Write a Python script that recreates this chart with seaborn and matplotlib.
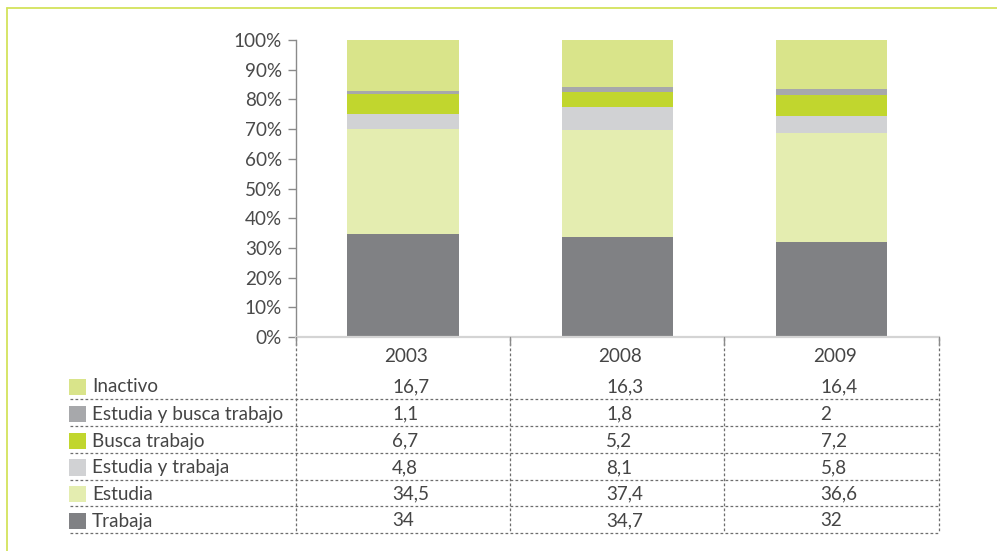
import matplotlib
matplotlib.use("Agg")
import matplotlib.pyplot as plt
import seaborn as sns
import numpy as np
import pandas as pd
from matplotlib.lines import Line2D
from matplotlib.patches import Rectangle

# ---------------- data ----------------
years = ["2003", "2008", "2009"]
trabaja = [34, 34.7, 32]
estudia = [34.5, 37.4, 36.6]
estudia_y_trabaja = [4.8, 8.1, 5.8]
busca_trabajo = [6.7, 5.2, 7.2]
estudia_y_busca = [1.1, 1.8, 2]
inactivo = [16.7, 16.3, 16.4]

# stacking order (bottom -> top)
series_names = ["Trabaja", "Estudia", "Estudia y trabaja", "Busca trabajo",
                "Estudia y busca trabajo", "Inactivo"]
series_values = [trabaja, estudia, estudia_y_trabaja, busca_trabajo,
                 estudia_y_busca, inactivo]
series_colors = ["#808184", "#e4edb0", "#d1d2d4", "#c1d62e", "#a7a8ab", "#d9e48a"]
ytick_values = list(range(0, 101, 10))
ytick_labels = [f"{v}%" for v in ytick_values]

# ---------------- style ----------------
sns.set_theme(style="white")
plt.rcParams["font.family"] = ["Lato", "DejaVu Sans"]
TXT = "#454545"
FS = 13.6
FW = "normal"
W, H = 997, 551

fig = plt.figure(figsize=(W / 100, H / 100), dpi=100)
fig.patch.set_facecolor("white")

def fx(x):
    return x / W

def fy(y):
    return 1 - y / H

AX_L, AX_R, AX_T, AX_B = 296, 938.7, 40, 337
ax = fig.add_axes([fx(AX_L), fy(AX_B), fx(AX_R) - fx(AX_L), fy(AX_T) - fy(AX_B)])

df = pd.DataFrame({name: vals for name, vals in zip(series_names, series_values)}, index=years)
pct = df.div(df.sum(axis=1), axis=0) * 100

bottom = np.zeros(len(years))
for name, col in zip(series_names, series_colors):
    sns.barplot(x=years, y=pct[name].values, bottom=bottom, color=col, saturation=1,
                width=0.52, errorbar=None, order=years, ax=ax, linewidth=0)
    bottom = bottom + pct[name].values

ax.set_xlim(-0.5, len(years) - 0.5)
ax.set_ylim(0, 100)
ax.set_yticks(ytick_values)
ax.set_yticklabels(ytick_labels, fontweight=FW)
ax.set_xticks([])
ax.set_xlabel("")
ax.set_ylabel("")
ax.tick_params(axis="y", direction="out", length=6, width=1, color="#8a8a8a",
               pad=4, labelsize=FS, labelcolor="#4a4a4a", left=True)
for s in ["top", "right"]:
    ax.spines[s].set_visible(False)
ax.spines["left"].set_color("#8a8a8a")
ax.spines["left"].set_linewidth(1)
ax.spines["bottom"].set_color("#d4d4d4")
ax.spines["bottom"].set_linewidth(1.6)
ax.grid(False)

# ---------------- data table ----------------
col_w = (AX_R - AX_L) / len(years)
col_edges = [AX_L + i * col_w for i in range(len(years) + 1)]
col_centers = [AX_L + (i + 0.5) * col_w for i in range(len(years))]

dash = dict(color="#6e6e6e", lw=0.9, linestyle=(0, (2.2, 1.8)))
row_bottoms = [399, 426.3, 453, 479.5, 506, 533]
TABLE_TOP = 338

for xe in col_edges:
    fig.add_artist(Line2D([fx(xe), fx(xe)], [fy(TABLE_TOP), fy(row_bottoms[-1])],
                          transform=fig.transFigure, **dash))
    fig.add_artist(Line2D([fx(xe), fx(xe)], [fy(AX_B), fy(AX_B + 8)],
                          transform=fig.transFigure, color="#8a8a8a", lw=1))
for yb in row_bottoms:
    fig.add_artist(Line2D([fx(70), fx(AX_R)], [fy(yb), fy(yb)],
                          transform=fig.transFigure, **dash))

# header
for yr, cx in zip(years, col_centers):
    fig.text(fx(cx + 3), fy(362), yr, ha="center", va="baseline",
             fontsize=FS, color=TXT, fontweight=FW)

def fmt(v):
    return f"{v:g}".replace(".", ",")

# rows top -> bottom (reverse of stacking)
rows = list(zip(series_names, series_values, series_colors))[::-1]
for (name, vals, col), yb in zip(rows, row_bottoms):
    fig.add_artist(Rectangle((fx(69), fy(yb - 4)), fx(86) - fx(69), fy(yb - 20.5) - fy(yb - 4),
                             transform=fig.transFigure, facecolor=col, edgecolor="none"))
    fig.text(fx(92), fy(yb - 6.5), name, ha="left", va="baseline", fontsize=FS,
             color=TXT, fontweight=FW)
    for v, cx in zip(vals, col_centers):
        fig.text(fx(cx - 11), fy(yb - 6.5), fmt(v), ha="left", va="baseline",
                 fontsize=FS, color=TXT, fontweight=FW)

# frame lines (left + top) in light green
bcol = "#d3e35c"
fig.add_artist(Line2D([fx(6.5), fx(6.5)], [fy(7.5), fy(H)], transform=fig.transFigure,
                      color=bcol, lw=1.3))
fig.add_artist(Line2D([fx(6.5), fx(W)], [fy(7.5), fy(7.5)], transform=fig.transFigure,
                      color=bcol, lw=1.3))

fig.savefig("out.png", dpi=100, facecolor="white")
